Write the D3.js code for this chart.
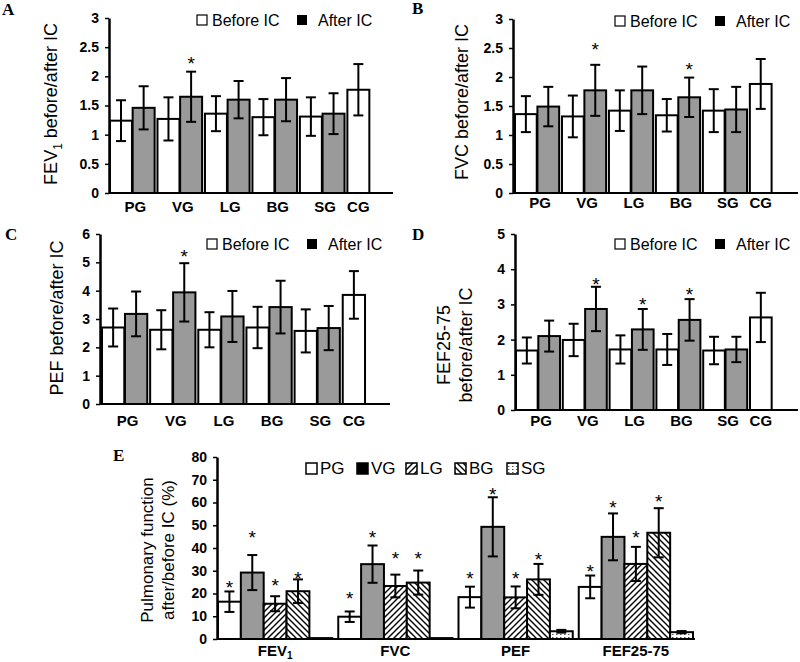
<!DOCTYPE html>
<html><head><meta charset="utf-8">
<script src="https://cdn.jsdelivr.net/npm/d3@7"></script>
<style>body{margin:0;background:#fff}svg{display:block}</style>
</head><body>
<script>
// ---------- DATA ----------
const groups = ["PG","VG","LG","BG","SG","CG"];

const fev1Before    = [1.24,1.27,1.36,1.30,1.31,1.77];
const fev1BeforeErr = [0.35,0.37,0.30,0.31,0.33,0.44];
const fev1After     = [1.46,1.65,1.60,1.60,1.36,null];
const fev1AfterErr  = [0.37,0.43,0.32,0.37,0.35,null];
const fev1Stars     = [null,2.31,null,null,null,null];

const fvcBefore    = [1.36,1.32,1.42,1.34,1.42,1.88];
const fvcBeforeErr = [0.31,0.36,0.35,0.28,0.37,0.43];
const fvcAfter     = [1.49,1.77,1.77,1.65,1.44,null];
const fvcAfterErr  = [0.34,0.44,0.41,0.34,0.39,null];
const fvcStars     = [null,2.56,null,2.21,null,null];

const pefBefore    = [2.70,2.62,2.62,2.70,2.58,3.85];
const pefBeforeErr = [0.67,0.69,0.62,0.73,0.76,0.84];
const pefAfter     = [3.18,3.94,3.09,3.42,2.68,null];
const pefAfterErr  = [0.79,1.03,0.90,0.93,0.78,null];
const pefStars     = [null,5.38,null,null,null,null];

const fefBefore    = [1.69,1.99,1.72,1.72,1.69,2.63];
const fefBeforeErr = [0.37,0.46,0.40,0.44,0.39,0.70];
const fefAfter     = [2.10,2.87,2.29,2.56,1.72,null];
const fefAfterErr  = [0.44,0.63,0.58,0.59,0.36,null];
const fefStars     = [null,3.71,3.15,3.41,null,null];

const ticks3 = ["0","0.5","1","1.5","2","2.5","3"];
const ticks6 = ["0","1","2","3","4","5","6"];
const ticks5 = ["0","1","2","3","4","5"];
const ticks80 = ["0","10","20","30","40","50","60","70","80"];

const measures = ["FEV1","FVC","PEF","FEF25-75"];
const eSeries  = ["PG","VG","LG","BG","SG"];
const ePG    = [16.4, 9.8, 18.4, 22.9];
const ePGErr = [4.5, 2.3, 4.6, 5.0];
const ePGStar= [24.8, 20.1, 28.9, 32.0];
const eVG    = [29.2, 32.9, 49.3, 44.9];
const eVGErr = [7.7, 8.2, 13.0, 10.3];
const eVGStar= [46.8, 46.8, 65.8, 60.0];
const eLG    = [15.5, 23.3, 18.3, 33.0];
const eLGErr = [3.3, 5.0, 4.8, 7.5];
const eLGStar= [25.5, 37.4, 28.9, 46.7];
const eBG    = [21.0, 24.8, 26.2, 46.7];
const eBGErr = [5.2, 5.3, 6.8, 10.8];
const eBGStar= [28.9, 37.4, 37.3, 62.6];
const eSG    = [0.4, 0.4, 3.4, 3.0];
const eSGErr = [0, 0, 0.6, 0.5];
const eSGStar= [null, null, null, null];

// ---------- DRAW ----------
const SANS = "'Liberation Sans', Arial, sans-serif";
const SERIF = "'Liberation Serif', 'Times New Roman', serif";
const GREY = "#9a9a9a";
const STAR_FS = 19;

const svg = d3.select("body").append("svg").attr("width",800).attr("height",662)
  .style("font-family", SANS);

const defs = svg.append("defs");
const pLG = defs.append("pattern").attr("id","hatchLG").attr("patternUnits","userSpaceOnUse")
  .attr("width",6).attr("height",6);
pLG.append("rect").attr("width",6).attr("height",6).attr("fill","#fff");
pLG.append("path").attr("d","M0,6 L6,0 M-1,1 L1,-1 M5,7 L7,5").attr("stroke","#000").attr("stroke-width",1.4);
const pBG = defs.append("pattern").attr("id","hatchBG").attr("patternUnits","userSpaceOnUse")
  .attr("width",6).attr("height",6);
pBG.append("rect").attr("width",6).attr("height",6).attr("fill","#fff");
pBG.append("path").attr("d","M0,0 L6,6 M-1,5 L1,7 M5,-1 L7,1").attr("stroke","#000").attr("stroke-width",1.4);
const pSG = defs.append("pattern").attr("id","dotsSG").attr("patternUnits","userSpaceOnUse")
  .attr("width",4).attr("height",3);
pSG.append("rect").attr("width",4).attr("height",3).attr("fill","#fff");
pSG.append("rect").attr("x",0).attr("y",1).attr("width",1.5).attr("height",1).attr("fill","#555");

function errBar(g, cx, yTop, yBot, cap){
  g.append("line").attr("x1",cx).attr("x2",cx).attr("y1",yTop).attr("y2",yBot)
    .attr("stroke","#000").attr("stroke-width",2);
  [yTop,yBot].forEach(yy=>g.append("line").attr("x1",cx-cap/2).attr("x2",cx+cap/2)
    .attr("y1",yy).attr("y2",yy).attr("stroke","#000").attr("stroke-width",2));
}

function star(g, cx, cy){
  g.append("text").attr("x",cx).attr("y",cy).attr("dy","0.6em")
    .attr("text-anchor","middle").attr("font-size",STAR_FS).text("*");
}

function yAxis(g, y, axisX, tickLabels, fs){
  const ax = d3.axisLeft(y).tickValues(tickLabels.map(Number))
    .tickFormat((d,i)=>tickLabels[i]).tickSize(4).tickSizeOuter(0).tickPadding(6);
  const a = g.append("g").attr("transform",`translate(${axisX},0)`).call(ax);
  a.select(".domain").attr("stroke-width",2.5);
  a.selectAll(".tick line").attr("stroke-width",1.5);
  a.selectAll("text").attr("font-size",fs).attr("font-weight","bold").attr("fill","#000")
    .attr("font-family",SANS);
}

function panel(c){
  const g = svg.append("g");
  const y = d3.scaleLinear().domain([0,+c.ticks[c.ticks.length-1]]).range([c.bottom,c.top]);
  const x = d3.scaleBand().domain(groups).range(c.band).paddingInner(0.06).paddingOuter(0);
  const xs = d3.scaleBand().domain(["before","after"]).range([0,x.bandwidth()]).paddingInner(0.03);

  groups.forEach((grp,i)=>{
    const series = [
      {k:"before", v:c.before[i], e:c.beforeErr[i], fill:"#fff", star:null},
      {k:"after", v:c.after[i], e:c.afterErr[i], fill:GREY, star:c.stars[i]}
    ];
    series.forEach(s=>{
      if(s.v==null) return;
      const bx = x(grp)+xs(s.k), bw = xs.bandwidth();
      g.append("rect").attr("x",bx).attr("y",y(s.v)).attr("width",bw)
        .attr("height",y(0)-y(s.v)).attr("fill",s.fill).attr("stroke","#000").attr("stroke-width",2);
      errBar(g, bx+bw/2, y(s.v+s.e), y(s.v-s.e), 10);
      if(s.star!=null) star(g, bx+bw/2, y(s.star));
    });
    const lx = grp==="CG" ? x(grp)+xs("before")+xs.bandwidth()/2 : x(grp)+x.bandwidth()/2+3;
    g.append("text").attr("x",lx).attr("y",c.labelY).attr("text-anchor","middle")
      .attr("font-size",15).attr("font-weight","bold").text(grp);
  });

  // axes
  g.append("line").attr("x1",c.axisX).attr("x2",c.right).attr("y1",c.bottom).attr("y2",c.bottom)
    .attr("stroke","#000").attr("stroke-width",2);
  yAxis(g, y, c.axisX, c.ticks, 14);

  // title
  const t = g.append("text").attr("transform",`translate(${c.titleX},${c.titleY}) rotate(-90)`)
    .attr("text-anchor","middle").attr("font-size",18);
  c.title(t);

  // legend
  g.append("rect").attr("x",c.legX).attr("y",c.legY-5).attr("width",10).attr("height",10)
    .attr("fill","#fff").attr("stroke","#000").attr("stroke-width",1.2);
  g.append("text").attr("x",c.legX+15).attr("y",c.legY).attr("dy","0.35em").attr("font-size",16).text("Before IC");
  g.append("rect").attr("x",c.legX+100).attr("y",c.legY-5).attr("width",10).attr("height",10).attr("fill","#000");
  g.append("text").attr("x",c.legX+121).attr("y",c.legY).attr("dy","0.35em").attr("font-size",16).text("After IC");

  // letter
  g.append("text").attr("x",c.lx).attr("y",c.ly).attr("font-family",SERIF).attr("font-weight","bold")
    .attr("font-size",17).text(c.letter);
}

panel({letter:"A", lx:2, ly:15, axisX:109, top:18, bottom:193, right:393, band:[110,392],
  ticks:ticks3, before:fev1Before, beforeErr:fev1BeforeErr, after:fev1After, afterErr:fev1AfterErr, stars:fev1Stars,
  labelY:212, titleX:57, titleY:104, legX:197, legY:20,
  title:t=>{t.append("tspan").text("FEV");t.append("tspan").attr("font-size",12).attr("dy",5).text("1");
            t.append("tspan").attr("dy",-5).text(" before/after IC");}});
panel({letter:"B", lx:412, ly:14, axisX:513, top:19, bottom:193, right:798, band:[515,794],
  ticks:ticks3, before:fvcBefore, beforeErr:fvcBeforeErr, after:fvcAfter, afterErr:fvcAfterErr, stars:fvcStars,
  labelY:208, titleX:462, titleY:102, legX:615, legY:21,
  title:t=>t.attr("dy","0.35em").text("FVC before/after IC")});
panel({letter:"C", lx:5, ly:240, axisX:100, top:234, bottom:404, right:390, band:[102,388],
  ticks:ticks6, before:pefBefore, beforeErr:pefBeforeErr, after:pefAfter, afterErr:pefAfterErr, stars:pefStars,
  labelY:426, titleX:57, titleY:318, legX:207, legY:244,
  title:t=>t.attr("dy","0.35em").text("PEF before/after IC")});
panel({letter:"D", lx:412, ly:240, axisX:515, top:234, bottom:410, right:798, band:[516,794],
  ticks:ticks5, before:fefBefore, beforeErr:fefBeforeErr, after:fefAfter, afterErr:fefAfterErr, stars:fefStars,
  labelY:426, titleX:455, titleY:345, legX:615, legY:244,
  title:t=>{t.append("tspan").attr("x",0).attr("dy","-0.3em").text("FEF25-75");
            t.append("tspan").attr("x",0).attr("dy","1.25em").text("before/after IC");}});

// ---------- PANEL E ----------
(function(){
  const g = svg.append("g");
  const axisX = 217, top = 457, bottom = 639, right = 695;
  const y = d3.scaleLinear().domain([0,80]).range([bottom,top]);
  const x = d3.scaleBand().domain(measures).range([218,693]).paddingInner(0.05).paddingOuter(0);
  const xs = d3.scaleBand().domain(eSeries).range([0,x.bandwidth()]);
  const sets = {
    PG:{v:ePG,e:ePGErr,s:ePGStar,fill:"#fff"},
    VG:{v:eVG,e:eVGErr,s:eVGStar,fill:GREY},
    LG:{v:eLG,e:eLGErr,s:eLGStar,fill:"url(#hatchLG)"},
    BG:{v:eBG,e:eBGErr,s:eBGStar,fill:"url(#hatchBG)"},
    SG:{v:eSG,e:eSGErr,s:eSGStar,fill:"url(#dotsSG)"}
  };
  measures.forEach((m,i)=>{
    eSeries.forEach(sn=>{
      const d = sets[sn];
      const bx = x(m)+xs(sn), bw = xs.bandwidth();
      g.append("rect").attr("x",bx).attr("y",y(d.v[i])).attr("width",bw)
        .attr("height",y(0)-y(d.v[i])).attr("fill",d.fill).attr("stroke","#000").attr("stroke-width",2);
      if(d.e[i]>0) errBar(g, bx+bw/2, y(d.v[i]+d.e[i]), y(d.v[i]-d.e[i]), 10);
      if(d.s[i]!=null) star(g, bx+bw/2, y(d.s[i]));
    });
    const lt = g.append("text").attr("x",x(m)+x.bandwidth()/2).attr("y",656).attr("text-anchor","middle")
      .attr("font-size",15).attr("font-weight","bold");
    if(m==="FEV1"){ lt.append("tspan").text("FEV"); lt.append("tspan").attr("font-size",10).attr("dy",3).text("1"); }
    else lt.text(m);
  });
  g.append("line").attr("x1",axisX).attr("x2",right).attr("y1",bottom).attr("y2",bottom)
    .attr("stroke","#000").attr("stroke-width",2);
  yAxis(g, y, axisX, ticks80, 14);

  const t = g.append("text").attr("transform","translate(158,550) rotate(-90)")
    .attr("text-anchor","middle").attr("font-size",17);
  t.append("tspan").attr("x",0).attr("dy","-0.3em").text("Pulmonary function");
  t.append("tspan").attr("x",0).attr("dy","1.25em").text("after/before IC (%)");

  // legend
  const legFill = {PG:"#fff",VG:"#000",LG:"url(#hatchLG)",BG:"url(#hatchBG)",SG:"url(#dotsSG)"};
  const legX = {PG:306,VG:357,LG:406,BG:455,SG:507};
  eSeries.forEach(sn=>{
    g.append("rect").attr("x",legX[sn]).attr("y",463).attr("width",11).attr("height",11)
      .attr("fill",legFill[sn]).attr("stroke","#000").attr("stroke-width",1.5);
    g.append("text").attr("x",legX[sn]+14).attr("y",468.5).attr("dy","0.35em").attr("font-size",17).text(sn);
  });

  g.append("text").attr("x",113).attr("y",461).attr("font-family",SERIF).attr("font-weight","bold")
    .attr("font-size",17).text("E");
})();
</script>
</body></html>
